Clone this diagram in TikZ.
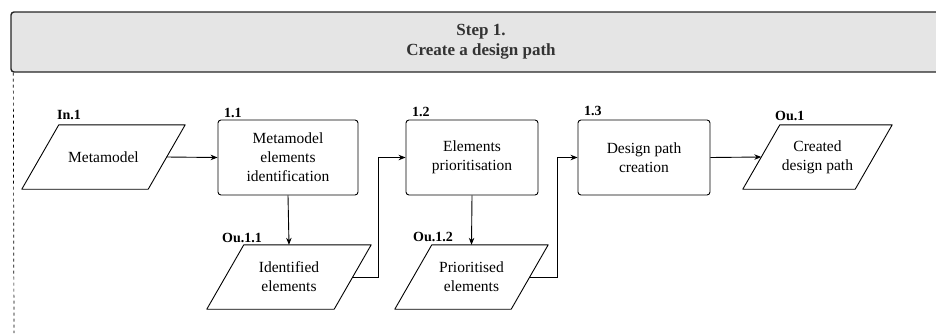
\documentclass[tikz,border=0pt]{standalone}
\usepackage{fontspec}
\setmainfont{Liberation Serif}
\usetikzlibrary{arrows.meta,calc}
\tikzset{
    process box/.style={
        draw, rounded corners=3pt, line width=0.9pt,
        minimum height=75pt, align=center, inner sep=0pt,
        font=\fontsize{15.5}{19}\selectfont
    },
    % the body of a data shape: its slanted outline is drawn afterwards
    data shape/.style={
        minimum height=64pt, inner sep=0pt,
        align=center, font=\fontsize{15.5}{19}\selectfont
    },
    data outline/.style={draw, line width=0.9pt, line join=round},
    step label/.style={
        anchor=base west, inner sep=0pt,
        font=\fontsize{14}{16}\selectfont\bfseries
    },
    flow arrow/.style={
        draw, line width=0.9pt,
        -{Stealth[length=7pt,width=5.5pt]}
    },
    header box/.style={
        draw=black!85, fill=black!10, line width=1.4pt, rounded corners=3pt,
        align=center, text=black!80,
        font=\fontsize{17}{20}\selectfont\bfseries
    }
}
\begin{document}
\begin{tikzpicture}[x=1pt,y=-1pt]
    \useasboundingbox (0,0) rectangle (936,333);
    % step header and its swimlane
    \node[header box, minimum width=940pt, minimum height=60pt] (step) at (481,42)
        {Step 1.\\Create a design path};
    \draw[dashed, line width=0.7pt] ($(step.south west)+(3,0)$) -- (14,333);

    % inputs, activities and outputs
    \node[data shape, minimum width=126pt] (in1) at (103.5,157) {Metamodel};
    \node[process box, minimum width=140pt] (act11) at (288,157.5)
        {Metamodel\\elements\\identification};
    \node[data shape, minimum width=127pt] (ou11) at (289,277) {Identified\\elements};
    \node[process box, minimum width=132pt] (act12) at (472,157.5)
        {Elements\\prioritisation};
    \node[data shape, minimum width=116pt] (ou12) at (471.5,277) {Prioritised\\elements};
    \node[process box, minimum width=132pt] (act13) at (644,157.5)
        {Design path\\creation};
    \node[data shape, minimum width=112pt] (ou1) at (817.5,157) {Created\\design path};

    \foreach \d in {in1,ou11,ou12,ou1}
        \draw[data outline] ($(\d.south west)+(-18.5,0)$) -- ($(\d.north west)+(18.5,0)$)
            -- ($(\d.north east)+(18.5,0)$) -- ($(\d.south east)+(-18.5,0)$) -- cycle;

    % labels
    \node[step label] (lin1) at (57,119) {In.1};
    \node[step label] (l11) at (224,117) {1.1};
    \node[step label] (lou11) at (222,242) {Ou.1.1};
    \node[step label] (l12) at (412,116) {1.2};
    \node[step label] (lou12) at (413,241) {Ou.1.2};
    \node[step label] (l13) at (584,115) {1.3};
    \node[step label] (lou1) at (775,120) {Ou.1};

    % flows
    \path[flow arrow] (in1.east) -- (act11.west);
    \path[flow arrow] (act11.south) -- (ou11.north);
    \path[flow arrow] (ou11.east) -- ++(26,0) |- (act12.west);
    \path[flow arrow] (act12.south) -- (ou12.north);
    \path[flow arrow] (ou12.east) -- ++(28,0) |- (act13.west);
    \path[flow arrow] (act13.east) -- (ou1.west);
\end{tikzpicture}
\end{document}
